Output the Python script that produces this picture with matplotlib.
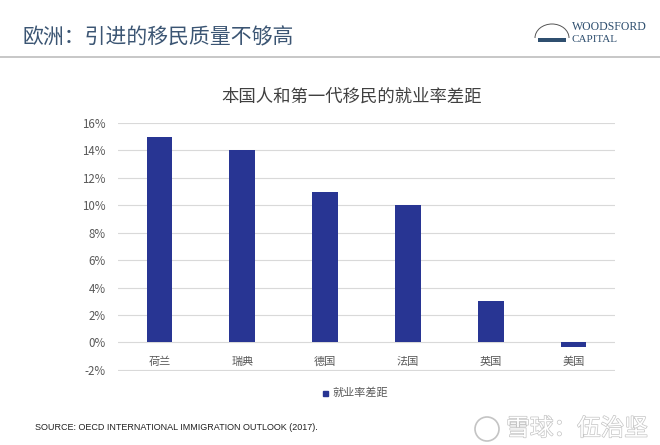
import matplotlib
matplotlib.use("Agg")
import matplotlib.pyplot as plt
import matplotlib.patches as patches
import matplotlib.patheffects as pe
import matplotlib.transforms as mtransforms

plt.rcParams['font.family'] = ['Noto Sans CJK SC', 'DejaVu Sans']

countries = ["荷兰", "瑞典", "德国", "法国", "英国", "美国"]
gap_values = [15.0, 14.0, 11.0, 10.0, 3.0, -0.3]
y_ticks = [-2, 0, 2, 4, 6, 8, 10, 12, 14, 16]
series_name = "就业率差距"
chart_title = "本国人和第一代移民的就业率差距"
page_title = "欧洲：引进的移民质量不够高"
source_note = "SOURCE: OECD INTERNATIONAL IMMIGRATION OUTLOOK (2017)."

bar_color = "#283593"
W, H = 660, 445

fig = plt.figure(figsize=(6.6, 4.45), dpi=100)
fig.patch.set_facecolor("white")

# page header
fig.text(22 / W, 1 - 37 / H, page_title, fontsize=15, color="#3b5573", va="center", ha="left")
fig.add_artist(plt.Line2D([0, 1], [1 - 57 / H, 1 - 57 / H], color="#bdbdbd", lw=1.2))
fig.text(572 / W, 1 - 27 / H, "WOODSFORD", fontsize=8.5, color="#2f4f6f", family="Liberation Serif",
         va="center", ha="left")
fig.text(572 / W, 1 - 39 / H, "CAPITAL", fontsize=8, color="#2f4f6f", family="Liberation Serif",
         va="center", ha="left")
# rough turtle logo: upper half of a shell with a blue band
shell = patches.Arc((552 / W, 1 - 38 / H), 34 / W, 28 / H, theta1=0, theta2=180,
                    transform=fig.transFigure, edgecolor="#555555", lw=0.7)
fig.patches.append(shell)
fig.patches.append(patches.Rectangle((538 / W, 1 - 42 / H), 28 / W, 4 / H, transform=fig.transFigure,
                                     facecolor="#2f4f6f", edgecolor="none"))

# chart
ax = fig.add_axes([118 / W, 1 - 371 / H, (615 - 118) / W, (371 - 123) / H])
x = list(range(len(countries)))
ax.bar(x, gap_values, width=0.31, color=bar_color, zorder=3)
ax.set_xlim(-0.5, len(countries) - 0.5)
ax.set_ylim(-2.08, 16)
ax.set_yticks(y_ticks)
ax.set_yticklabels([f"{t}%" for t in y_ticks], fontsize=8.3, color="#595959")
ax.tick_params(axis="y", length=0, pad=9)
ax.set_xticks([])
ax.grid(axis="y", color="#d9d9d9", lw=0.8, zorder=0)
for s in ax.spines.values():
    s.set_visible(False)

trans = mtransforms.blended_transform_factory(ax.transData, ax.transData)
for xi, name in zip(x, countries):
    ax.text(xi, -1.4, name, transform=trans, ha="center", va="center", fontsize=8, color="#595959")

fig.text(352 / W, 1 - 97 / H, chart_title, fontsize=12.5, color="#404040", ha="center", va="center")

# legend
fig.patches.append(plt.Rectangle((323 / W, 1 - 396 / H), 5 / W, 5 / H, transform=fig.transFigure,
                                 color=bar_color, figure=fig))
fig.text(332 / W, 1 - 393 / H, series_name, fontsize=8, color="#595959", va="center", ha="left")

# source
fig.text(35 / W, 1 - 428 / H, source_note, fontsize=6.5, color="#222222", family="Liberation Sans",
         va="center", ha="left")

# watermark
wm = [pe.withStroke(linewidth=1.0, foreground="#c4c4c4")]
fig.text(648 / W, 1 - 429 / H, "雪球：伍治坚", fontsize=17, color="white", va="center", ha="right",
         path_effects=wm)
fig.patches.append(patches.Ellipse((487 / W, 1 - 429 / H), 24 / W, 24 / H, transform=fig.transFigure,
                                   facecolor="none", edgecolor="#c4c4c4", lw=1.2))

fig.savefig("out.png", dpi=100, facecolor="white")
